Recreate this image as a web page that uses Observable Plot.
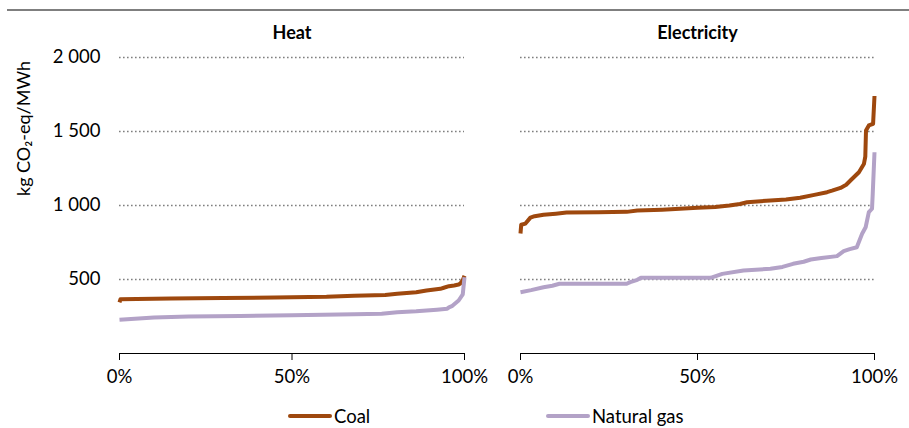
<!DOCTYPE html>
<html>
<head>
<meta charset="utf-8">
<script src="https://cdn.jsdelivr.net/npm/d3@7"></script>
<script src="https://cdn.jsdelivr.net/npm/@observablehq/plot@0.6"></script>
<style>
  body { margin: 0; background: #fff; font-family: Lato, "Open Sans", sans-serif; }
  #wrap { position: relative; width: 909px; height: 428px; overflow: hidden; }
  #topline { position: absolute; left: 7px; top: 9px; width: 902px; height: 2px; background: #7f7f7f; }
  .panel { position: absolute; top: 0; }
  .legend { position: absolute; top: 402px; font-size: 18.5px; color: #000; display: flex; align-items: center; height: 28px; }
  .sw { display: inline-block; width: 44px; height: 4px; border-radius: 2px; margin-right: 2px; }
</style>
</head>
<body>
<div id="wrap">
  <div id="topline"></div>
  <div id="p1" class="panel" style="left:0px"></div>
  <div id="p2" class="panel" style="left:492px"></div>
  <div id="leg"></div>
</div>
<script>
// ---- data ----
const panels = ["Heat", "Electricity"];
const seriesNames = ["Coal", "Natural gas"];
const seriesColors = ["#9E480E", "#B3A2C7"];
const xTicks = [0, 50, 100];
const yTicks = [500, 1000, 1500, 2000];
const yLabel = "kg CO\u2082-eq/MWh";

const heatCoalX = [0, 0.3, 5, 15, 30, 45, 60, 68, 77, 80.5, 86, 89, 93, 94, 95.5, 97, 98.3, 98.8, 99.5, 100];
const heatCoalY = [345, 367, 369, 372, 375, 378, 383, 390, 396, 403, 414, 426, 437, 444, 455, 460, 466, 473, 495, 525];

const heatGasX = [0, 10, 20, 35, 50, 68, 76, 80.5, 86, 89, 92, 95, 95.5, 96.5, 98.3, 99.5, 100];
const heatGasY = [228, 244, 250, 254, 259, 265, 268, 279, 285, 290, 296, 303, 312, 322, 358, 400, 515];

const elecCoalX = [0, 0.2, 1.4, 2.8, 4, 6.5, 10, 13, 22, 30, 33, 40, 50, 55, 59, 62, 64, 70.6, 75, 79, 83, 86.6, 88, 90.4, 92, 93.2, 95.6, 97, 97.4, 97.6, 98.4, 99.6, 100];
const elecCoalY = [811, 870, 878, 918, 928, 938, 945, 952, 955, 957, 966, 972, 985, 990, 1000, 1010, 1022, 1034, 1040, 1052, 1072, 1090, 1100, 1119, 1140, 1169, 1225, 1280, 1330, 1507, 1541, 1552, 1740];

const elecGasX = [0, 3, 6.5, 9, 11, 30, 31, 33, 34, 53.7, 57, 63, 70.6, 74, 77, 80, 82, 85, 89.4, 91.3, 93, 95, 96.5, 97.5, 98.4, 99.3, 99.5, 100];
const elecGasY = [414, 428, 448, 458, 471, 471, 482, 498, 511, 511, 538, 561, 572, 585, 606, 620, 635, 645, 658, 691, 705, 718, 809, 853, 955, 978, 1079, 1360];

// ---- build tables ----
function toRows(xs, ys) { return xs.map((x, i) => ({p: x, v: ys[i]})); }
const panelSeries = [
  [toRows(heatCoalX, heatCoalY), toRows(heatGasX, heatGasY)],
  [toRows(elecCoalX, elecCoalY), toRows(elecGasX, elecGasY)]
];

const fmtY = d => d3.format(",")(d).replace(",", "\u00a0");
const H = 400;

function makePanel(idx, width, mLeft, mRight) {
  const marks = [
    Plot.ruleY(yTicks, {stroke: "#7f7f7f", strokeWidth: 1.6, strokeDasharray: "1.6,2.4"}),
    Plot.ruleY([0], {stroke: "#000", strokeWidth: 1}),
    Plot.axisX({ticks: xTicks, tickFormat: d => d + "%", tickSize: 7, tickPadding: 9, label: null, fontSize: 18.5}),
    Plot.text([panels[idx]], {frameAnchor: "top", dy: -24, fontWeight: "bold", fontSize: 18, lineAnchor: "middle"})
  ];
  if (idx === 0) {
    marks.push(Plot.axisY({ticks: yTicks, tickFormat: fmtY, tickSize: 0, tickPadding: 19, label: null, fontSize: 18.5}));
    marks.push(Plot.text([yLabel], {frameAnchor: "left", dx: -95, dy: -77, rotate: -90, fontSize: 18, textAnchor: "middle", lineAnchor: "middle"}));
  } else {
    marks.push(Plot.axisY({ticks: [], label: null, tickSize: 0}));
  }
  panelSeries[idx].forEach((rows, s) => {
    marks.push(Plot.line(rows, {x: "p", y: "v", stroke: seriesColors[s], strokeWidth: 4, strokeLinejoin: "round", strokeLinecap: "butt"}));
  });
  return Plot.plot({
    width, height: H,
    marginLeft: mLeft, marginRight: mRight, marginTop: 57, marginBottom: H - 353,
    style: {fontFamily: "Lato, 'Open Sans', sans-serif", fontSize: "18px", background: "transparent", overflow: "visible", color: "#000"},
    x: {domain: [0, 100]},
    y: {domain: [0, 2000]},
    marks
  });
}

document.getElementById("p1").appendChild(makePanel(0, 492, 119, 28));
document.getElementById("p2").appendChild(makePanel(1, 417, 28, 35));

// ---- legend (below the charts) ----
const legPos = [288, 546];
const leg = document.getElementById("leg");
seriesNames.forEach((name, i) => {
  const d = document.createElement("div");
  d.className = "legend";
  d.style.left = legPos[i] + "px";
  d.innerHTML = `<span class="sw" style="background:${seriesColors[i]}"></span><span>${name}</span>`;
  leg.appendChild(d);
});
</script>
</body>
</html>
